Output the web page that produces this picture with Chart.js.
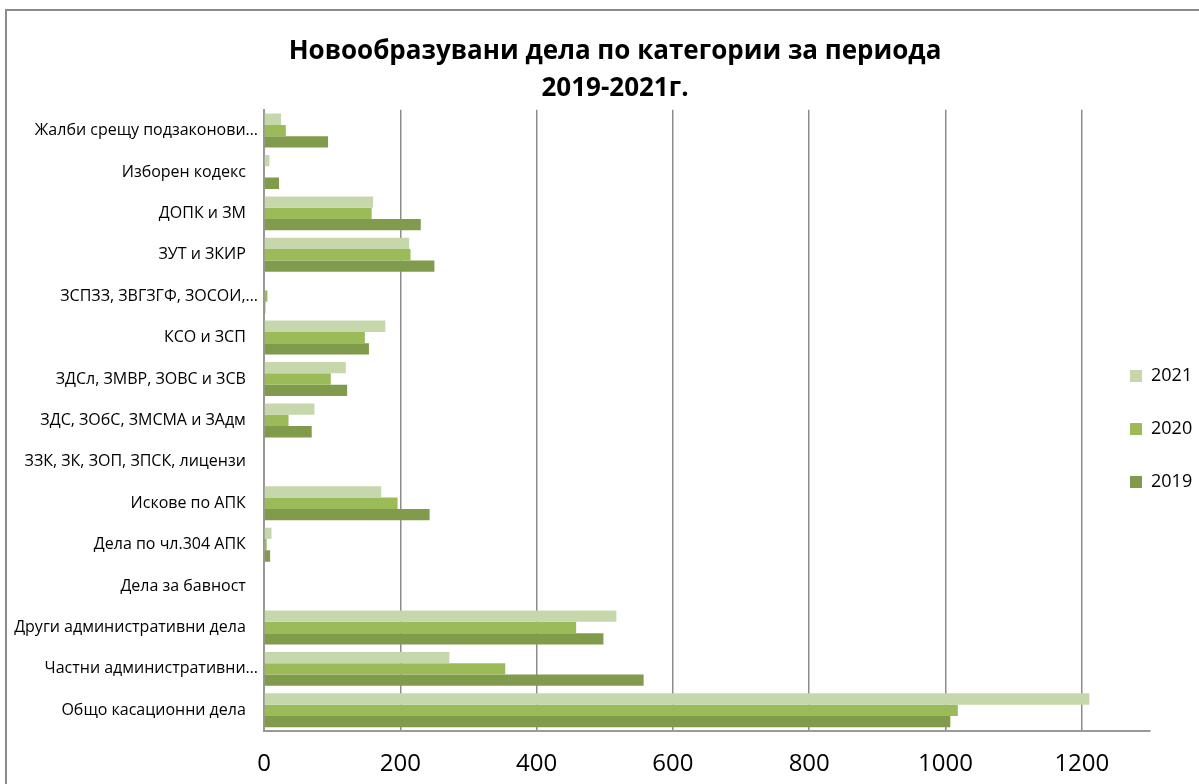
<!DOCTYPE html>
<html>
<head>
<meta charset="utf-8">
<script src="https://cdn.jsdelivr.net/npm/chart.js@4.4.1/dist/chart.umd.min.js"></script>
<style>
  html, body { margin: 0; padding: 0; background: #fff; overflow: hidden; width: 1199px; height: 784px; }
  #frame { position: absolute; left: 5px; top: 9px; border-left: 2px solid #8c8c8c; border-top: 2px solid #8c8c8c; width: 1216px; height: 773px; }
  canvas { display: block; }
</style>
</head>
<body>
<div id="frame"><canvas id="c" width="1216" height="773"></canvas></div>
<script>
const categories = [
  'Жалби срещу подзаконови…',
  'Изборен кодекс',
  'ДОПК и ЗМ',
  'ЗУТ и ЗКИР',
  'ЗСПЗЗ, ЗВГЗГФ, ЗОСОИ,…',
  'КСО и ЗСП',
  'ЗДСл, ЗМВР, ЗОВС и ЗСВ',
  'ЗДС, ЗОбС, ЗМСМА и ЗАдм',
  'ЗЗК, ЗК, ЗОП, ЗПСК, лицензи',
  'Искове по АПК',
  'Дела по чл.304 АПК',
  'Дела за бавност',
  'Други административни дела',
  'Частни административни…',
  'Общо касационни дела'
];
const seriesNames = ['2021', '2020', '2019'];
const values2021 = [25, 8, 160, 213, 1, 178, 120, 74, 0, 172, 11, 0, 517, 272, 1211];
const values2020 = [32, 0, 158, 215, 5, 148, 98, 36, 0, 196, 4, 0, 458, 354, 1018];
const values2019 = [94, 22, 230, 250, 2, 154, 122, 70, 0, 243, 9, 0, 498, 557, 1007];
const xTicks = [0, 200, 400, 600, 800, 1000, 1200];
const titleLines = ['Новообразувани дела по категории за периода', '2019-2021г.'];

const colors = ['#c5d7ab', '#9bbb59', '#7f9b4b'];
const FONT = "'Open Sans', 'Noto Sans', sans-serif";

const legendPlacer = {
  id: 'legendPlacer',
  afterLayout(chart) {
    const lg = chart.legend;
    if (!lg) return;
    const h = lg.height;
    lg.left = 1088; lg.right = lg.left + 125;
    lg.top = 321; lg.bottom = lg.top + h;
  }
};

new Chart(document.getElementById('c'), {
  type: 'bar',
  data: {
    labels: categories,
    datasets: [
      { label: seriesNames[0], data: values2021, backgroundColor: colors[0] },
      { label: seriesNames[1], data: values2020, backgroundColor: colors[1] },
      { label: seriesNames[2], data: values2019, backgroundColor: colors[2] }
    ]
  },
  options: {
    indexAxis: 'y',
    responsive: false,
    animation: false,
    layout: { padding: 0 },
    datasets: { bar: { categoryPercentage: 0.82, barPercentage: 1.0, borderWidth: 0 } },
    scales: {
      x: {
        min: 0, max: 1300,
        afterFit(s) { s.height = 53; },
        afterBuildTicks(s) { s.ticks = xTicks.map(v => ({ value: v })); },
        ticks: {
          stepSize: 200, includeBounds: false, padding: 19, color: '#000',
          font: { family: FONT, size: 24 },
          callback(v) { return String(v); }
        },
        grid: { color: '#8c8c8c', lineWidth: 1.5, drawTicks: false },
        border: { display: true, color: '#999', width: 2 }
      },
      y: {
        afterFit(s) { s.width = 257; },
        ticks: {
          padding: 6, color: '#000', font: { family: FONT, size: 16 },
          callback(v) { const l = this.getLabelForValue(v); return l.endsWith('…') ? l : l + '\u2002 '; }
        },
        grid: { display: false, drawTicks: false },
        border: { display: true, color: '#999', width: 2 }
      }
    },
    plugins: {
      title: {
        display: true, text: titleLines, color: '#000',
        font: { family: FONT, size: 26, weight: 'bold', lineHeight: 1.42 },
        padding: { top: 22, bottom: 3 }
      },
      legend: {
        position: 'right', align: 'start', maxWidth: 73,
        labels: { boxWidth: 12, boxHeight: 12, padding: 35, color: '#000', font: { family: FONT, size: 18 } }
      },
      tooltip: { enabled: false }
    }
  },
  plugins: [legendPlacer]
});
</script>
</body>
</html>
